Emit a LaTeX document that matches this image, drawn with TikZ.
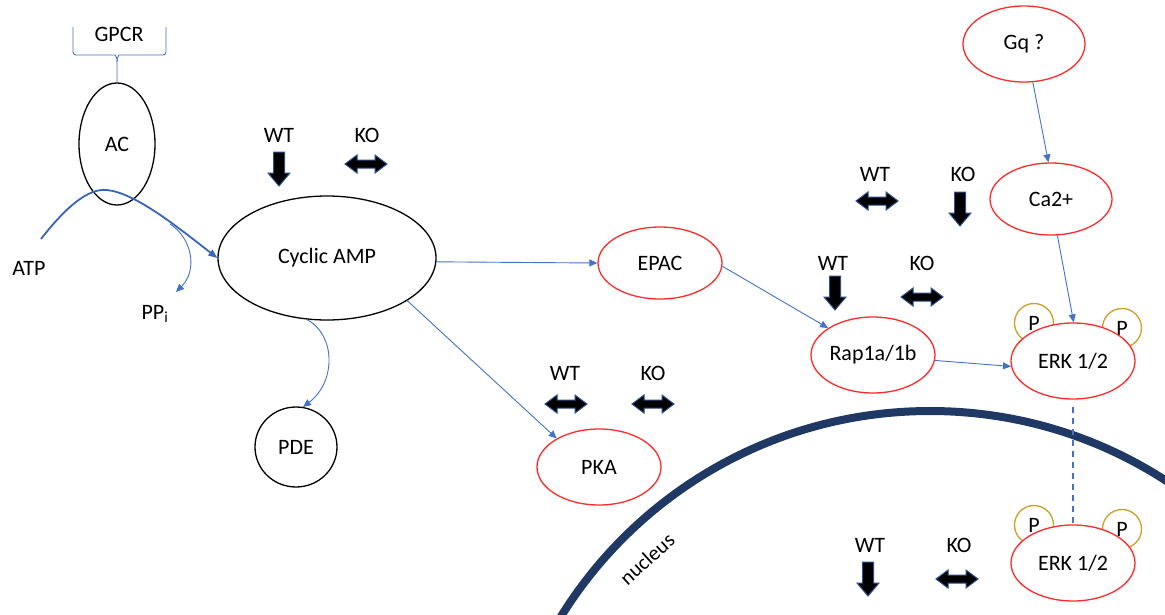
\documentclass[tikz,border=0pt]{standalone}
\usepackage{fontspec}
\setmainfont{Carlito}
\usetikzlibrary{shapes.geometric,arrows.meta}
\definecolor{lblue}{HTML}{4472C4}
\definecolor{dblue}{HTML}{3A64B8}
\definecolor{navy}{HTML}{203864}
\definecolor{gold}{HTML}{C9A02C}
\definecolor{ered}{HTML}{FF2A2A}
\definecolor{aout}{HTML}{2F4F8F}
\tikzset{
  lbl/.style={font=\fontsize{22}{26}\selectfont, inner sep=0pt},
  blk/.style={ellipse, draw=black, line width=1.3pt, fill=white, lbl},
  rednode/.style={ellipse, draw=ered, line width=1.3pt, fill=white, lbl},
  conn/.style={draw=lblue, line width=0.9pt, -{Triangle[length=8pt,width=7pt]}},
  pcirc/.style={circle, draw=gold, line width=1.3pt, fill=white, minimum size=39pt, inner sep=0pt, lbl},
  blockarrow/.style={fill=black, draw=aout, line width=1pt, line join=miter},
  downarr/.pic={\path[blockarrow] (-5.5,-17) -- (5.5,-17) -- (5.5,4) -- (11,4) -- (0,17) -- (-11,4) -- (-5.5,4) -- cycle;},
  dblarr/.pic={\path[blockarrow] (-21,0) -- (-9,-9) -- (-9,-4) -- (9,-4) -- (9,-9) -- (21,0) -- (9,9) -- (9,4) -- (-9,4) -- (-9,9) -- cycle;}
}
\begin{document}
\begin{tikzpicture}[x=1pt,y=-1pt]
\useasboundingbox[fill=white] (0,0) rectangle (1165,614);

% nucleus membrane
\begin{scope}
  \clip (0,0) rectangle (1165,614);
  \draw[navy, line width=8pt] (930,845) circle[radius=434];
\end{scope}
\node[lbl, font=\fontsize{21}{25}\selectfont, rotate=42] (nuc) at (647,559) {nucleus};

% P circles (behind ERK)
\node[pcirc] (p1) at (1034,323) {P};
\node[pcirc] (p2) at (1122,328) {P};
\node[pcirc] (p3) at (1034,525) {P};
\node[pcirc] (p4) at (1122,529) {P};

% main nodes
\node[blk, minimum width=76pt, minimum height=122pt] (ac) at (117,144) {AC};
\node[blk, minimum width=218pt, minimum height=124pt] (camp) at (327,258) {Cyclic AMP};
\node[blk, minimum width=82pt, minimum height=80pt] (pde) at (296,447) {PDE};
\node[rednode, minimum width=124pt, minimum height=72pt] (epac) at (660,263) {EPAC};
\node[rednode, minimum width=124pt, minimum height=76pt] (pka) at (599,467) {PKA};
\node[rednode, minimum width=124pt, minimum height=76pt] (rap) at (873,355) {Rap1a/1b};
\node[rednode, minimum width=122pt, minimum height=76pt] (gq) at (1024,44) {Gq ?};
\node[rednode, minimum width=122pt, minimum height=72pt] (ca) at (1051,199) {Ca2+};
\node[rednode, minimum width=124pt, minimum height=76pt] (erk1) at (1073,361) {ERK 1/2};
\node[rednode, minimum width=124pt, minimum height=76pt] (erk2) at (1073,563) {ERK 1/2};

% labels
\node[lbl] (gpcr) at (119,34) {GPCR};
\node[lbl] (atp) at (29,268) {ATP};
\node[lbl] (ppi) at (155,314) {PP\textsubscript{i}};

% GPCR brace
\draw[lblue, line width=0.9pt, rounded corners=3pt] (73,27) -- (73,55) -- (112,55) to[out=0,in=90] (117,62) -- (ac.north);
\draw[lblue, line width=0.9pt, rounded corners=3pt] (166,27) -- (166,55) -- (122,55) to[out=180,in=90] (117,62);

% ATP -> cAMP
\coordinate (atps) at (41,239);
\coordinate (br) at (170,224);
\coordinate (ppiend) at (176,292);
\draw[dblue, line width=1.8pt, -{Triangle[length=9pt,width=7pt]}] (atps) .. controls (66,207) and (88,188) .. (107,190) .. controls (135,193) and (175,225) .. (camp.west);
\draw[conn] (br) .. controls (192,238) and (198,270) .. (ppiend);

% connectors
\draw[conn] (camp.-108) .. controls (336,335) and (336,382) .. (pde.80);
\draw[conn] (camp.-2) -- (epac.west);
\draw[conn] (camp.-28) -- (pka.146);
\draw[conn] (epac.-3) -- (rap.149);
\draw[conn] (rap.-5) -- (erk1.185);
\draw[conn] (gq.-77) -- (ca.94);
\draw[conn] (ca.-80) -- (erk1.89);
\draw[lblue, line width=1.3pt, dash pattern=on 6pt off 5pt, shorten <=7pt] (erk1.south) -- (erk2.north);

% WT / KO indicators
\node[lbl] (wt1) at (279,135) {WT};
\node[lbl] (ko1) at (367,135) {KO};
\pic at (279,169) {downarr};
\pic at (366,164) {dblarr};

\node[lbl] (wt2) at (565,373) {WT};
\node[lbl] (ko2) at (653,373) {KO};
\pic at (566,404) {dblarr};
\pic at (653,404) {dblarr};

\node[lbl] (wt3) at (875,174) {WT};
\node[lbl] (ko3) at (963,174) {KO};
\pic at (877,201) {dblarr};
\pic at (960,209) {downarr};

\node[lbl] (wt4) at (833,263) {WT};
\node[lbl] (ko4) at (922,263) {KO};
\pic at (835,293) {downarr};
\pic at (922,297) {dblarr};

\node[lbl] (wt5) at (870,545) {WT};
\node[lbl] (ko5) at (959,545) {KO};
\pic at (868,579) {downarr};
\pic at (957,579) {dblarr};
\end{tikzpicture}
\end{document}
